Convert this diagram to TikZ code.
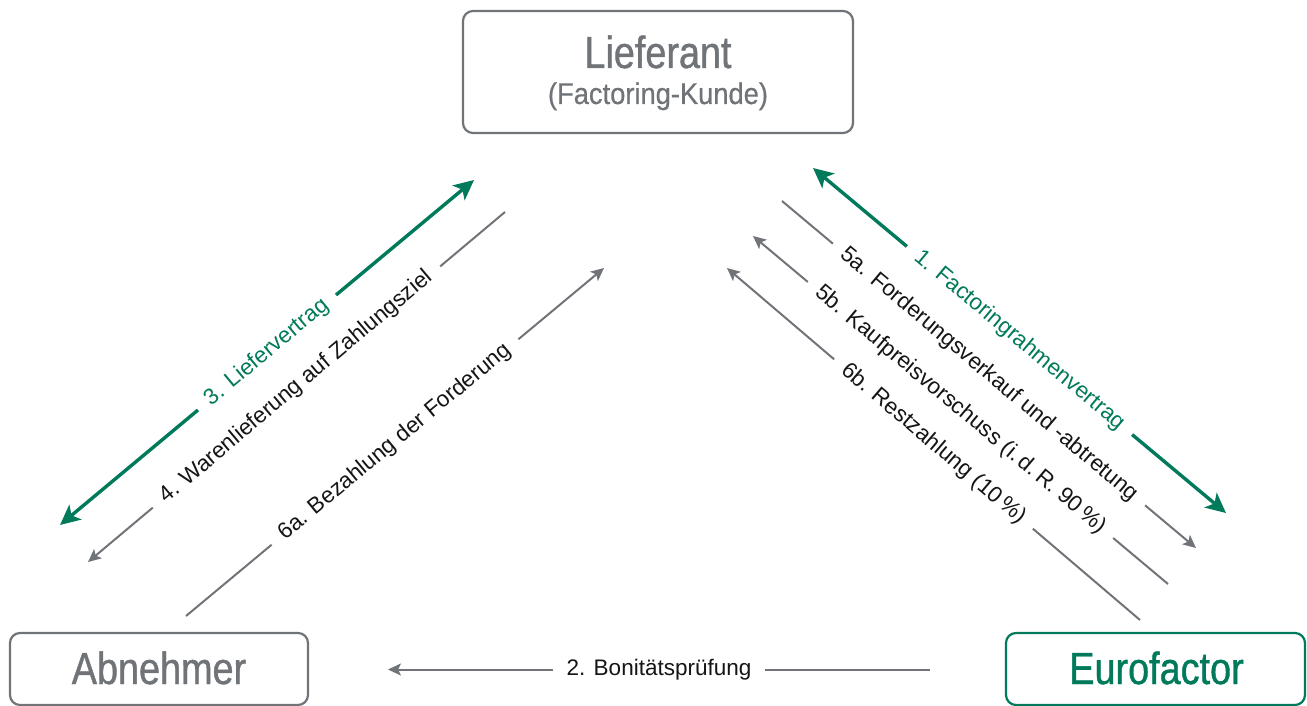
\documentclass[tikz,border=0pt]{standalone}
\usepackage{fontspec}
\setmainfont{Liberation Sans}
\newfontfamily\condfont[FakeStretch=0.84, FakeBold=0.9]{Liberation Sans}
\newfontfamily\subfont[FakeStretch=0.91, FakeBold=0.6]{Liberation Sans}
\usetikzlibrary{arrows.meta}
\definecolor{efgreen}{HTML}{007A5A}
\definecolor{efgray}{HTML}{707478}
\definecolor{eftext}{HTML}{151515}
\tikzset{
  box/.style={draw=efgray, line width=2.2pt, rounded corners=10pt, inner sep=0pt},
  greenbox/.style={box, draw=efgreen},
  title/.style={font=\condfont\fontsize{45}{50}\selectfont, text=efgray, inner sep=0pt, anchor=base},
  subtitle/.style={font=\subfont\fontsize{30}{34}\selectfont, text=efgray, inner sep=0pt, anchor=base},
  gline/.style={draw=efgray, line width=2pt, -{Stealth[length=13pt, width=12pt, inset=3pt]}},
  grline/.style={draw=efgreen, line width=3.4pt, {Stealth[length=20pt, width=19pt, inset=5pt]}-{Stealth[length=20pt, width=19pt, inset=5pt]}},
  lbl/.style={font=\fontsize{22.5}{26}\selectfont, text=eftext, fill=white, inner xsep=13pt, inner ysep=1pt, sloped, midway},
  glbl/.style={lbl, text=efgreen},
}
\begin{document}
\begin{tikzpicture}[x=1pt, y=-1pt]
\useasboundingbox (0,0) rectangle (1307,706);
% boxes
\node[box, minimum width=390pt, minimum height=122pt] (lief) at (658,72) {};
\node[title] (lieft) at (658,68) {Lieferant};
\node[subtitle] (liefs) at (658,104) {(Factoring-Kunde)};
\node[box, minimum width=298pt, minimum height=72pt] (abn) at (159,669) {};
\node[title] (abnt) at (159,684) {Abnehmer};
\node[greenbox, minimum width=299pt, minimum height=72pt] (euro) at (1155.5,669) {};
\node[title, text=efgreen] (eurot) at (1156.5,684) {Eurofactor};
% free ends
\coordinate (l3a) at (60,525);   \coordinate (l3b) at (474,180);
\coordinate (l4a) at (505,212);  \coordinate (l4b) at (88,562);
\coordinate (l6a) at (186,616);  \coordinate (l6b) at (604,268);
\coordinate (r1a) at (813,168);  \coordinate (r1b) at (1226,513);
\coordinate (r5a) at (782,201);  \coordinate (r5b) at (1196,548);
\coordinate (r5c) at (1168,584); \coordinate (r5d) at (753,236);
\coordinate (r6a) at (1140,620); \coordinate (r6b) at (727,268);
\coordinate (b2a) at (930,669.5);  \coordinate (b2b) at (388,669.5);
% connectors
\draw[grline] (l3a) -- node[glbl] (t3) {3. Liefervertrag} (l3b);
\draw[gline] (l4a) -- node[lbl] (t4) {4. Warenlieferung auf Zahlungsziel} (l4b);
\draw[gline] (l6a) -- node[lbl] (t6a) {6a. Bezahlung der Forderung} (l6b);
\draw[grline] (r1a) -- node[glbl] (t1) {1. Factoringrahmenvertrag} (r1b);
\draw[gline] (r5a) -- node[lbl] (t5a) {5a. Forderungsverkauf und -abtretung} (r5b);
\draw[gline] (r5c) -- node[lbl] (t5b) {5b. Kaufpreisvorschuss (i.\,d.\,R. 90\,\%)} (r5d);
\draw[gline] (r6a) -- node[lbl] (t6b) {6b. Restzahlung (10\,\%)} (r6b);
\draw[gline] (b2a) -- node[lbl, inner xsep=14pt] (t2) {2. Bonitätsprüfung} (b2b);
\end{tikzpicture}
\end{document}
